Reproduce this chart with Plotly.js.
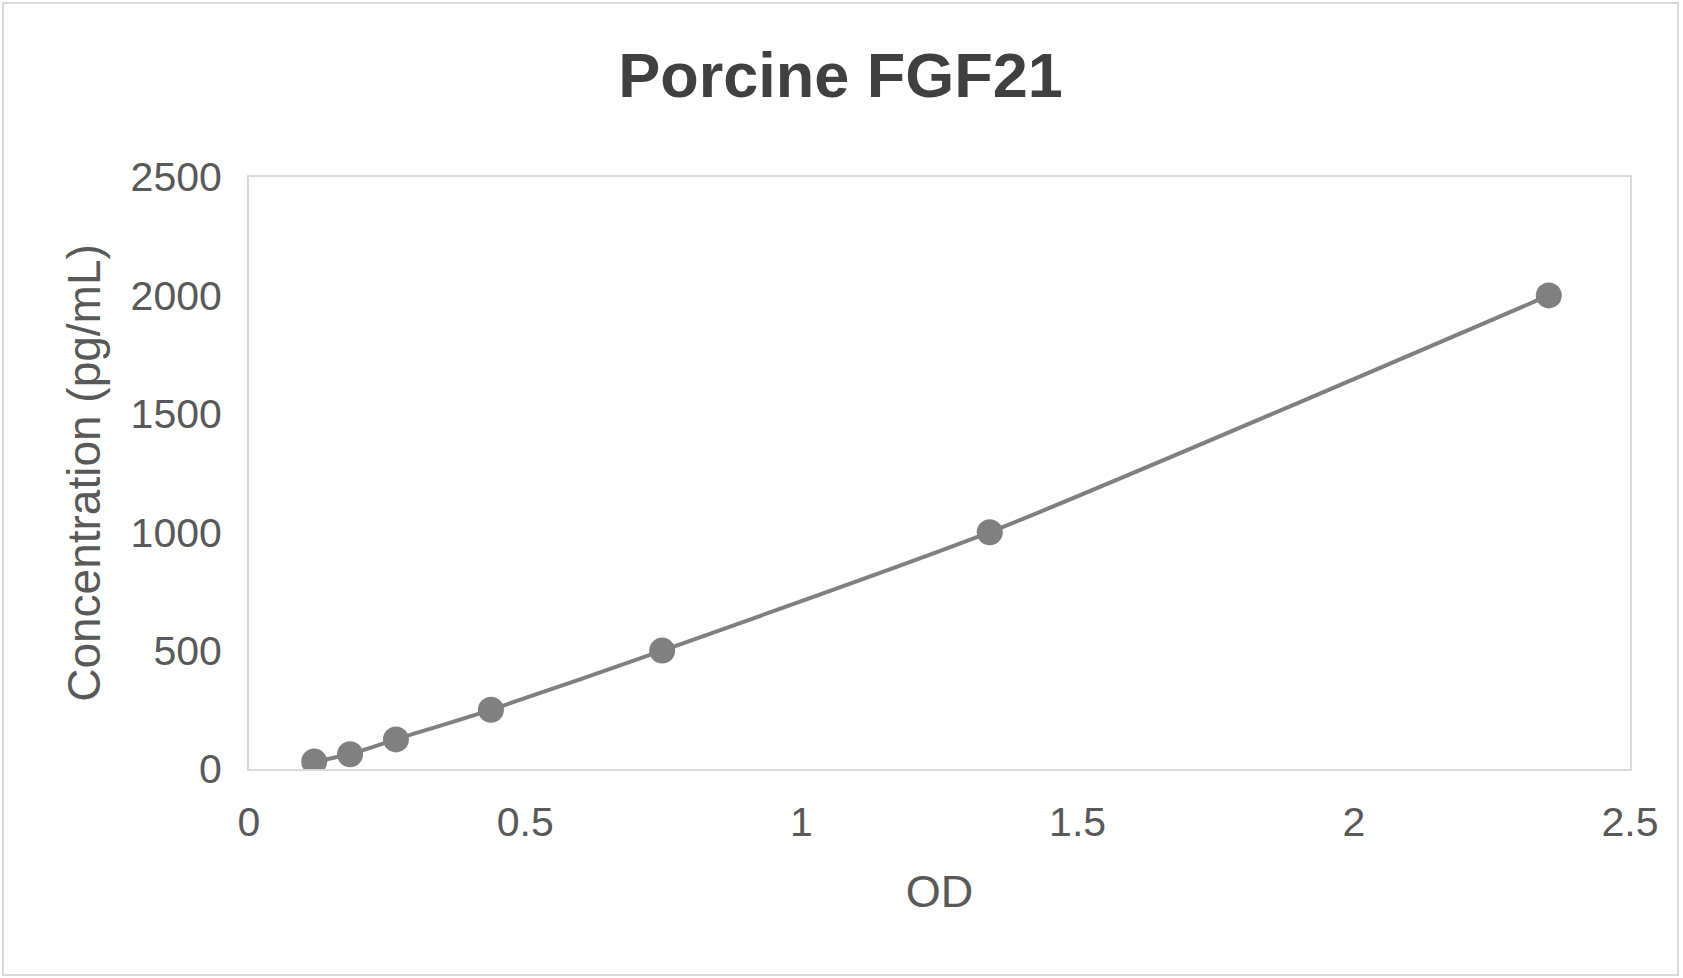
<!DOCTYPE html>
<html>
<head>
<meta charset="utf-8">
<script src="https://cdn.plot.ly/plotly-3.0.1.min.js"></script>
<style>
  body { margin: 0; background: #fff; }
  #chart {
    position: absolute;
    left: 2px;
    top: 2px;
    width: 1673px;
    height: 970px;
    border: 2px solid #d9d9d9;
  }
</style>
</head>
<body>
<div id="chart"></div>
<script>
const odValues = [0.118, 0.183, 0.266, 0.438, 0.748, 1.341, 2.353];
const concentrations = [31.25, 62.5, 125, 250, 500, 1000, 2000];
const xTicks = [0, 0.5, 1, 1.5, 2, 2.5];
const yTicks = [0, 500, 1000, 1500, 2000, 2500];

const fontFamily = "Liberation Sans, Arial, sans-serif";
const grey = "rgb(128, 128, 128)";

const data = [
    {
        x: [...odValues],
        y: [...concentrations],
        type: "scatter",
        mode: "lines+markers",
        line: { color: grey, width: 4, shape: "spline", smoothing: 0.6 },
        marker: { color: grey, size: 26 },
    },
];

const layout = {
    width: 1673,
    height: 970,
    margin: { l: 245, r: 47, t: 173, b: 205 },
    paper_bgcolor: "#fff",
    plot_bgcolor: "#fff",
    showlegend: false,
    font: { family: fontFamily, color: "#595959" },
    title: {
        text: "<b>Porcine FGF21</b>",
        font: { family: fontFamily, size: 63, color: "#404040" },
        xref: "container",
        yref: "container",
        x: 0.5,
        y: 0.927,
        xanchor: "center",
        yanchor: "middle",
    },
    xaxis: {
        range: [0, 2.5],
        tickvals: xTicks,
        ticktext: xTicks.map(String),
        showgrid: false,
        zeroline: false,
        showline: true,
        mirror: true,
        linecolor: "#d9d9d9",
        linewidth: 2,
        ticks: "",
        ticklabelstandoff: 16,
        tickfont: { size: 41, color: "#595959" },
        title: {
            text: "OD",
            font: { size: 45, color: "#595959" },
            standoff: 31,
        },
        automargin: false,
    },
    yaxis: {
        range: [0, 2500],
        tickvals: yTicks,
        ticktext: yTicks.map(String),
        showgrid: false,
        zeroline: false,
        showline: true,
        mirror: true,
        linecolor: "#d9d9d9",
        linewidth: 2,
        ticks: "",
        ticklabelstandoff: 17,
        tickfont: { size: 41, color: "#595959" },
        title: {
            text: "Concentration (pg/mL)",
            font: { size: 46, color: "#595959" },
            standoff: 15,
        },
        automargin: false,
    },
};

const config = { responsive: false, displayModeBar: false, staticPlot: true };

const plotContainer = document.querySelector("#chart");
Plotly.newPlot(plotContainer, data, layout, config);
</script>
</body>
</html>
